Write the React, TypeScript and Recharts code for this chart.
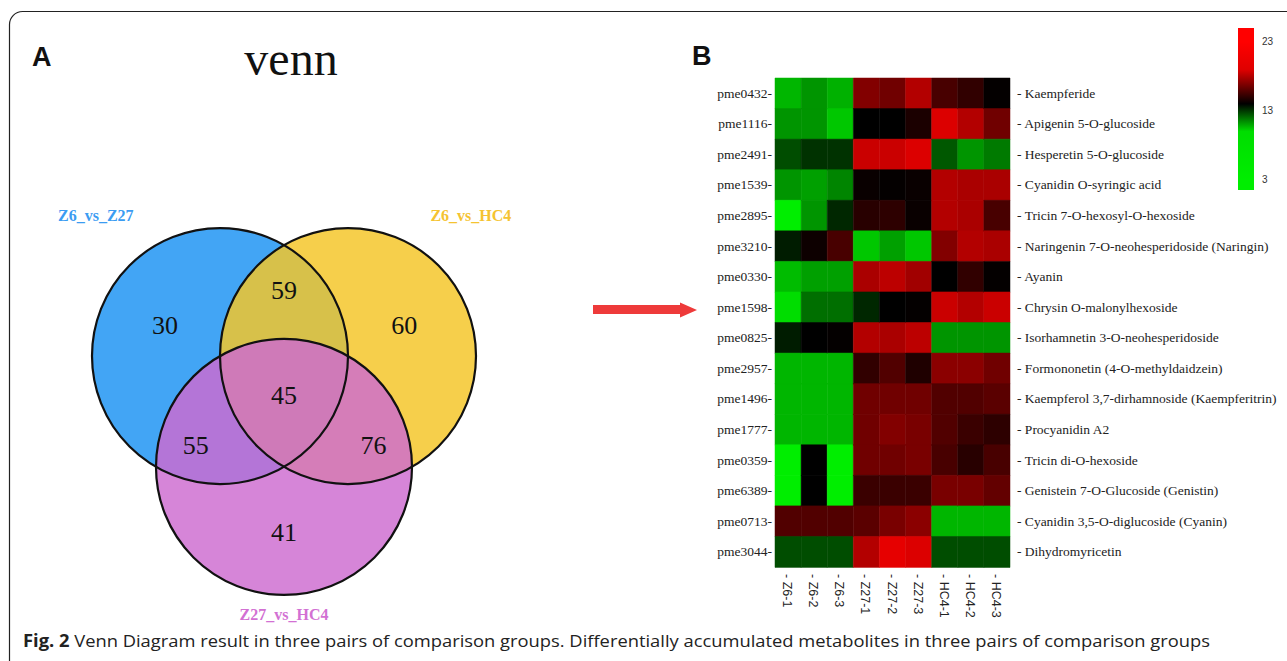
import { BarChart, Bar, Cell, XAxis, YAxis, ScatterChart, Scatter } from "recharts";

// ---- Venn data ----
const setNames = ["Z6_vs_Z27", "Z6_vs_HC4", "Z27_vs_HC4"];
const regionKeys = ["A", "B", "C", "AB", "AC", "BC", "ABC"];
const regionCounts = [30, 60, 41, 59, 55, 76, 45];

// ---- heatmap data ----
const sampleLabels = ["Z6-1", "Z6-2", "Z6-3", "Z27-1", "Z27-2", "Z27-3", "HC4-1", "HC4-2", "HC4-3"];
const metaboliteIds = [
  "pme0432", "pme1116", "pme2491", "pme1539", "pme2895", "pme3210", "pme0330", "pme1598",
  "pme0825", "pme2957", "pme1496", "pme1777", "pme0359", "pme6389", "pme0713", "pme3044",
];
const metaboliteNames = [
  "Kaempferide",
  "Apigenin 5-O-glucoside",
  "Hesperetin 5-O-glucoside",
  "Cyanidin O-syringic acid",
  "Tricin 7-O-hexosyl-O-hexoside",
  "Naringenin 7-O-neohesperidoside (Naringin)",
  "Ayanin",
  "Chrysin O-malonylhexoside",
  "Isorhamnetin 3-O-neohesperidoside",
  "Formononetin (4-O-methyldaidzein)",
  "Kaempferol 3,7-dirhamnoside (Kaempferitrin)",
  "Procyanidin A2",
  "Tricin di-O-hexoside",
  "Genistein 7-O-Glucoside (Genistin)",
  "Cyanidin 3,5-O-diglucoside (Cyanin)",
  "Dihydromyricetin",
];
// one row per metabolite, one value per sample
const abundance: number[][] = [
  [10.7, 11.3, 10.8, 16.9, 16.5, 18.0, 15.6, 15.1, 14.1],
  [11.3, 11.3, 10.4, 14.0, 14.0, 14.6, 18.9, 18.0, 16.5],
  [12.6, 13.1, 13.1, 18.5, 18.5, 18.9, 12.4, 11.3, 11.8],
  [11.3, 11.1, 11.6, 14.2, 14.1, 14.2, 18.0, 17.8, 17.8],
  [3.0, 11.3, 13.3, 14.9, 15.0, 14.2, 18.0, 17.8, 15.6],
  [13.5, 14.3, 15.6, 10.4, 11.1, 10.4, 16.9, 18.0, 17.8],
  [10.6, 11.1, 11.1, 17.8, 18.2, 17.6, 14.0, 15.1, 14.1],
  [10.0, 12.0, 12.0, 13.3, 14.0, 14.1, 18.5, 18.0, 18.5],
  [13.5, 14.0, 14.1, 18.0, 17.8, 18.2, 11.3, 11.3, 11.3],
  [10.7, 10.7, 10.7, 15.1, 15.8, 14.7, 17.1, 17.1, 16.5],
  [10.7, 10.7, 10.7, 16.5, 16.5, 16.5, 15.8, 15.8, 16.0],
  [10.7, 10.7, 10.7, 16.5, 16.9, 16.7, 15.8, 15.3, 15.0],
  [3.0, 14.0, 3.0, 16.5, 16.5, 16.7, 15.6, 14.9, 15.6],
  [3.0, 14.0, 3.0, 15.3, 15.3, 15.3, 16.7, 16.7, 16.2],
  [15.8, 15.8, 15.8, 16.0, 16.7, 17.1, 10.7, 10.7, 10.7],
  [12.6, 12.6, 12.6, 18.0, 19.8, 18.9, 12.6, 12.6, 12.6],
];
const colorbarTicks = [23, 13, 3];

// ---- venn geometry (unit = one radius) ----
const SET_CENTERS = [[-0.5, 0.2887], [0.5, 0.2887], [0, -0.5774]];
const SET_LABEL_POS = [[-1.47, 1.39], [1.46, 1.39], [0, -1.73]];
const REGION_POS: Record<string, number[]> = {
  A: [-0.93, 0.53], B: [0.94, 0.53], C: [0, -1.09],
  AB: [0, 0.8], AC: [-0.69, -0.41], BC: [0.7, -0.41], ABC: [0, -0.02],
};
const SET_FILL = ["rgb(66,165,245)", "rgb(244,198,40)", "rgb(205,107,208)"];
const SET_FILL_OPACITY = [1, 0.84, 0.825];
const SET_TEXT = ["#3b9cf2", "#f5c331", "#d270d3"];

const VENN_SIZE = 512;
const VENN_SPAN = 4;
const R_PX = (VENN_SIZE / VENN_SPAN) * 1.0;

const vennSets = setNames.map((name, i) => ({ name, i, x: SET_CENTERS[i][0], y: SET_CENTERS[i][1] }));
const vennSetLabels = setNames.map((name, i) => ({ name, i, x: SET_LABEL_POS[i][0], y: SET_LABEL_POS[i][1] }));
const vennRegions = regionKeys.map((k, i) => ({ key: k, count: regionCounts[i], x: REGION_POS[k][0], y: REGION_POS[k][1] }));

// ---- colour scale: green -> black -> red ----
const colorStops: [number, number[]][] = [
  [3, [0, 238, 0]],
  [10, [0, 221, 0]],
  [14, [0, 0, 0]],
  [19, [224, 0, 0]],
  [23, [255, 0, 0]],
];
function valueColor(v: number) {
  if (v <= colorStops[0][0]) return `rgb(${colorStops[0][1].join(",")})`;
  for (let k = 1; k < colorStops.length; k++) {
    const [v1, c1] = colorStops[k];
    const [v0, c0] = colorStops[k - 1];
    if (v <= v1) {
      const t = (v - v0) / (v1 - v0);
      const c = c0.map((a, n) => Math.round(a + (c1[n] - a) * t));
      return `rgb(${c.join(",")})`;
    }
  }
  return `rgb(${colorStops[colorStops.length - 1][1].join(",")})`;
}

const heatRows = metaboliteIds.map((id, i) => {
  const row: Record<string, any> = { id, name: metaboliteNames[i] };
  sampleLabels.forEach((_, j) => (row[`s${j}`] = 1));
  return row;
});

const serif = "'Liberation Serif', 'Times New Roman', serif";
const sans = "'Liberation Sans', Arial, sans-serif";

function SampleTick(props: any) {
  const { x, y, payload } = props;
  const label = sampleLabels[Math.floor(payload.value)];
  return (
    <text
      x={x - 1}
      y={y + 5}
      transform={`rotate(90 ${x - 1} ${y + 5})`}
      textAnchor="start"
      dominantBaseline="central"
      fontFamily={sans}
      fontSize={12.5}
      fill="#222"
    >
      {`- ${label}`}
    </text>
  );
}

function IdTick(props: any) {
  const { x, y, payload } = props;
  return (
    <text x={x} y={y} textAnchor="end" dominantBaseline="central" fontFamily={serif} fontSize={13.5} fill="#222">
      {`${payload.value}-`}
    </text>
  );
}

function NameTick(props: any) {
  const { x, y, payload } = props;
  return (
    <text x={x} y={y} textAnchor="start" dominantBaseline="central" fontFamily={serif} fontSize={13.5} fill="#222">
      {`- ${payload.value}`}
    </text>
  );
}

function Venn() {
  return (
    <ScatterChart width={VENN_SIZE} height={VENN_SIZE} margin={{ top: 0, right: 0, bottom: 0, left: 0 }}>
      <XAxis type="number" dataKey="x" domain={[-2, 2]} hide />
      <YAxis type="number" dataKey="y" domain={[-2, 2]} hide />
      <Scatter
        data={vennSets}
        isAnimationActive={false}
        shape={(p: any) => (
          <ellipse cx={p.cx} cy={p.cy} rx={R_PX} ry={R_PX} fill={SET_FILL[p.payload.i]} fillOpacity={SET_FILL_OPACITY[p.payload.i]} />
        )}
      />
      <Scatter
        data={vennSets}
        isAnimationActive={false}
        shape={(p: any) => <ellipse cx={p.cx} cy={p.cy} rx={R_PX} ry={R_PX} fill="none" stroke="#111" strokeWidth={2.2} />}
      />
      <Scatter
        data={vennRegions}
        isAnimationActive={false}
        shape={(p: any) => (
          <text x={p.cx} y={p.cy} textAnchor="middle" dominantBaseline="central" fontFamily={serif} fontSize={26} fill="#111">
            {p.payload.count}
          </text>
        )}
      />
      <Scatter
        data={vennSetLabels}
        isAnimationActive={false}
        shape={(p: any) => (
          <text x={p.cx} y={p.cy} textAnchor="middle" dominantBaseline="central" fontFamily={serif} fontWeight="bold" fontSize={16} fill={SET_TEXT[p.payload.i]}>
            {p.payload.name}
          </text>
        )}
      />
    </ScatterChart>
  );
}

function Heatmap() {
  return (
    <BarChart
      width={687}
      height={661}
      data={heatRows}
      layout="vertical"
      barCategoryGap={0}
      barGap={0}
      margin={{ top: 78, right: 7, bottom: 34, left: 75 }}
    >
      <XAxis
        type="number"
        domain={[0, sampleLabels.length]}
        ticks={sampleLabels.map((_, j) => j + 0.5)}
        interval={0}
        height={60}
        tickLine={false}
        axisLine={false}
        tickSize={0}
        tick={<SampleTick />}
      />
      <YAxis
        yAxisId="left"
        type="category"
        dataKey="id"
        width={100}
        interval={0}
        tickLine={false}
        axisLine={false}
        tickSize={0}
        tickMargin={3}
        tick={<IdTick />}
      />
      <YAxis
        yAxisId="right"
        orientation="right"
        type="category"
        dataKey="name"
        width={270}
        interval={0}
        tickLine={false}
        axisLine={false}
        tickSize={0}
        tickMargin={7}
        tick={<NameTick />}
      />
      {sampleLabels.map((s, j) => (
        <Bar key={s} dataKey={`s${j}`} stackId="hm" yAxisId="left" isAnimationActive={false}>
          {abundance.map((row, i) => (
            <Cell key={i} fill={valueColor(row[j])} stroke={valueColor(row[j])} strokeWidth={0.5} />
          ))}
        </Bar>
      ))}
    </BarChart>
  );
}

// colour bar spans value 25 (top) .. 1.5 (bottom)
const CB_TOP = 25;
const CB_BOTTOM = 1.5;
const CB_Y = 28;
const CB_H = 162;
const cbY = (v: number) => CB_Y + ((CB_TOP - v) / (CB_TOP - CB_BOTTOM)) * CB_H;

function ColorBar() {
  return (
    <svg width={1287} height={661} style={{ position: "absolute", left: 0, top: 0, pointerEvents: "none" }}>
      <defs>
        <linearGradient id="cb" x1="0" y1="0" x2="0" y2="1">
          {[...colorStops].reverse().map(([v, c]) => (
            <stop key={v} offset={(CB_TOP - v) / (CB_TOP - CB_BOTTOM)} stopColor={`rgb(${c.join(",")})`} />
          ))}
        </linearGradient>
      </defs>
      <rect x={1238} y={CB_Y} width={16} height={CB_H} fill="url(#cb)" />
      {colorbarTicks.map((t) => (
        <text key={t} x={1262} y={cbY(t)} dominantBaseline="central" fontFamily={sans} fontSize={10} fill="#333">
          {t}
        </text>
      ))}
    </svg>
  );
}

export default function App() {
  return (
    <div style={{ position: "absolute", left: 0, top: 0, width: 1287, height: 661, overflow: "hidden", background: "#fff" }}>
      <svg width={1287} height={661} style={{ position: "absolute", left: 0, top: 0 }}>
        <rect x={9.5} y={11.5} width={1300} height={700} rx={13} fill="none" stroke="#222" strokeWidth={1.2} />
        <polygon points="593,305 680,305 680,302.5 697,310 680,317.5 680,314 593,314" fill="#ee3a3a" />
        <text x={32} y={66} fontFamily={sans} fontWeight="bold" fontSize={27} fill="#111">A</text>
        <text x={692} y={65} fontFamily={sans} fontWeight="bold" fontSize={27} fill="#111">B</text>
        <text x={291} y={75} textAnchor="middle" fontFamily={serif} fontSize={48} fill="#111">venn</text>
        <text x={23} y={647} fontFamily="'Open Sans', sans-serif" fontSize={17} fill="#222" textLength={1187} lengthAdjust="spacingAndGlyphs">
          <tspan fontWeight="bold">Fig. 2</tspan>
          <tspan>{"  Venn Diagram result in three pairs of comparison groups. Differentially accumulated metabolites in three pairs of comparison groups"}</tspan>
        </text>
      </svg>
      <div style={{ position: "absolute", left: 28, top: 137 }}>
        <Venn />
      </div>
      <div style={{ position: "absolute", left: 600, top: 0 }}>
        <Heatmap />
      </div>
      <ColorBar />
    </div>
  );
}
